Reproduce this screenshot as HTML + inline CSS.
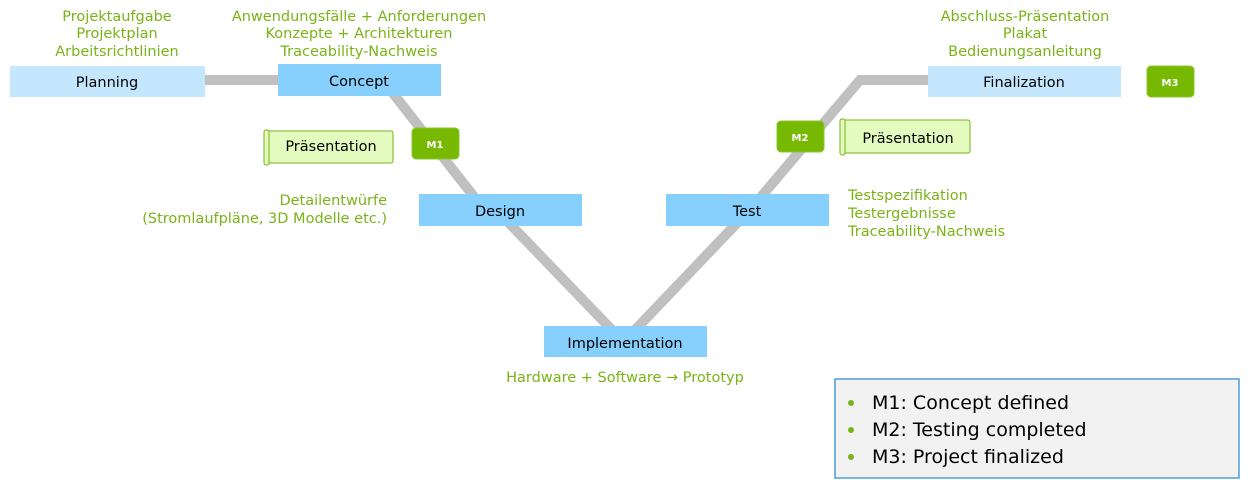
<!DOCTYPE html>
<html><head><meta charset="utf-8"><style>
html,body{margin:0;padding:0;background:#fff;}
svg{display:block;font-family:"DejaVu Sans","Liberation Sans",sans-serif;}
.g{fill:#7ab317;font-size:14.5px;text-anchor:middle;}
.b{font-size:14.5px;fill:#000;text-anchor:middle;}
</style></head><body>
<svg width="1255" height="484" viewBox="0 0 1255 484" xmlns="http://www.w3.org/2000/svg">
<g stroke="#c0c0c0" stroke-width="10" fill="none">
<line x1="200" y1="80" x2="285" y2="80"/>
<line x1="392" y1="92" x2="475" y2="198"/>
<line x1="508" y1="222" x2="612" y2="330"/>
<line x1="635" y1="330" x2="738" y2="222"/>
<polyline points="760,198 860,80 935,80"/>
</g>
<rect x="10" y="66" width="195" height="31" fill="#c5e7fd"/>
<text class="b" x="107" y="87">Planning</text>
<rect x="278" y="64" width="163" height="32" fill="#87cffc"/>
<text class="b" x="359" y="86">Concept</text>
<rect x="419" y="194" width="163" height="32" fill="#87cffc"/>
<text class="b" x="500" y="216">Design</text>
<rect x="544" y="326" width="163" height="31" fill="#87cffc"/>
<text class="b" x="625" y="348">Implementation</text>
<rect x="666" y="194" width="163" height="32" fill="#87cffc"/>
<text class="b" x="747" y="216">Test</text>
<rect x="928" y="66" width="193" height="31" fill="#c5e7fd"/>
<text class="b" x="1024" y="87">Finalization</text>
<g fill="#76b900" stroke="#8bc832">
<rect x="412" y="128" width="47" height="31" rx="4"/>
<rect x="777" y="121" width="47" height="31" rx="4"/>
<rect x="1147" y="66" width="47" height="31" rx="4"/>
</g>
<g fill="#fff" font-size="10" font-weight="bold" text-anchor="middle">
<text x="435" y="148">M1</text><text x="800" y="141">M2</text><text x="1170" y="86">M3</text>
</g>
<g fill="#e4fbc0" stroke="#7ab317" stroke-width="1">
<rect x="266" y="131" width="127" height="32" rx="2"/>
<rect x="264" y="130" width="5" height="35" rx="2"/>
<rect x="842" y="120" width="128" height="33" rx="2"/>
<rect x="840" y="119" width="5" height="36" rx="2"/>
</g>
<text class="b" x="331" y="151">Präsentation</text>
<text class="b" x="908" y="143">Präsentation</text>
<text class="g" x="117" y="21">Projektaufgabe</text>
<text class="g" x="117" y="38">Projektplan</text>
<text class="g" x="117" y="56">Arbeitsrichtlinien</text>
<text class="g" x="359" y="21">Anwendungsfälle + Anforderungen</text>
<text class="g" x="359" y="38">Konzepte + Architekturen</text>
<text class="g" x="359" y="56">Traceability-Nachweis</text>
<text class="g" x="1025" y="21">Abschluss-Präsentation</text>
<text class="g" x="1025" y="38">Plakat</text>
<text class="g" x="1025" y="56">Bedienungsanleitung</text>
<text class="g" x="387" y="205" style="text-anchor:end">Detailentwürfe</text>
<text class="g" x="387" y="223" style="text-anchor:end">(Stromlaufpläne, 3D Modelle etc.)</text>
<text class="g" x="848" y="200" style="text-anchor:start">Testspezifikation</text>
<text class="g" x="848" y="218" style="text-anchor:start">Testergebnisse</text>
<text class="g" x="848" y="236" style="text-anchor:start">Traceability-Nachweis</text>
<text class="g" x="625" y="382">Hardware + Software → Prototyp</text>
<rect x="835" y="379" width="404" height="99" fill="#f2f2f2" stroke="#4a9fd8" stroke-width="1.5"/>
<g fill="#7ab317"><circle cx="851" cy="403" r="3"/><circle cx="851" cy="430" r="3"/><circle cx="851" cy="457" r="3"/></g>
<g font-size="19" fill="#000">
<text x="872" y="409">M1: Concept defined</text>
<text x="872" y="436">M2: Testing completed</text>
<text x="872" y="463">M3: Project finalized</text>
</g>
</svg>
</body></html>
